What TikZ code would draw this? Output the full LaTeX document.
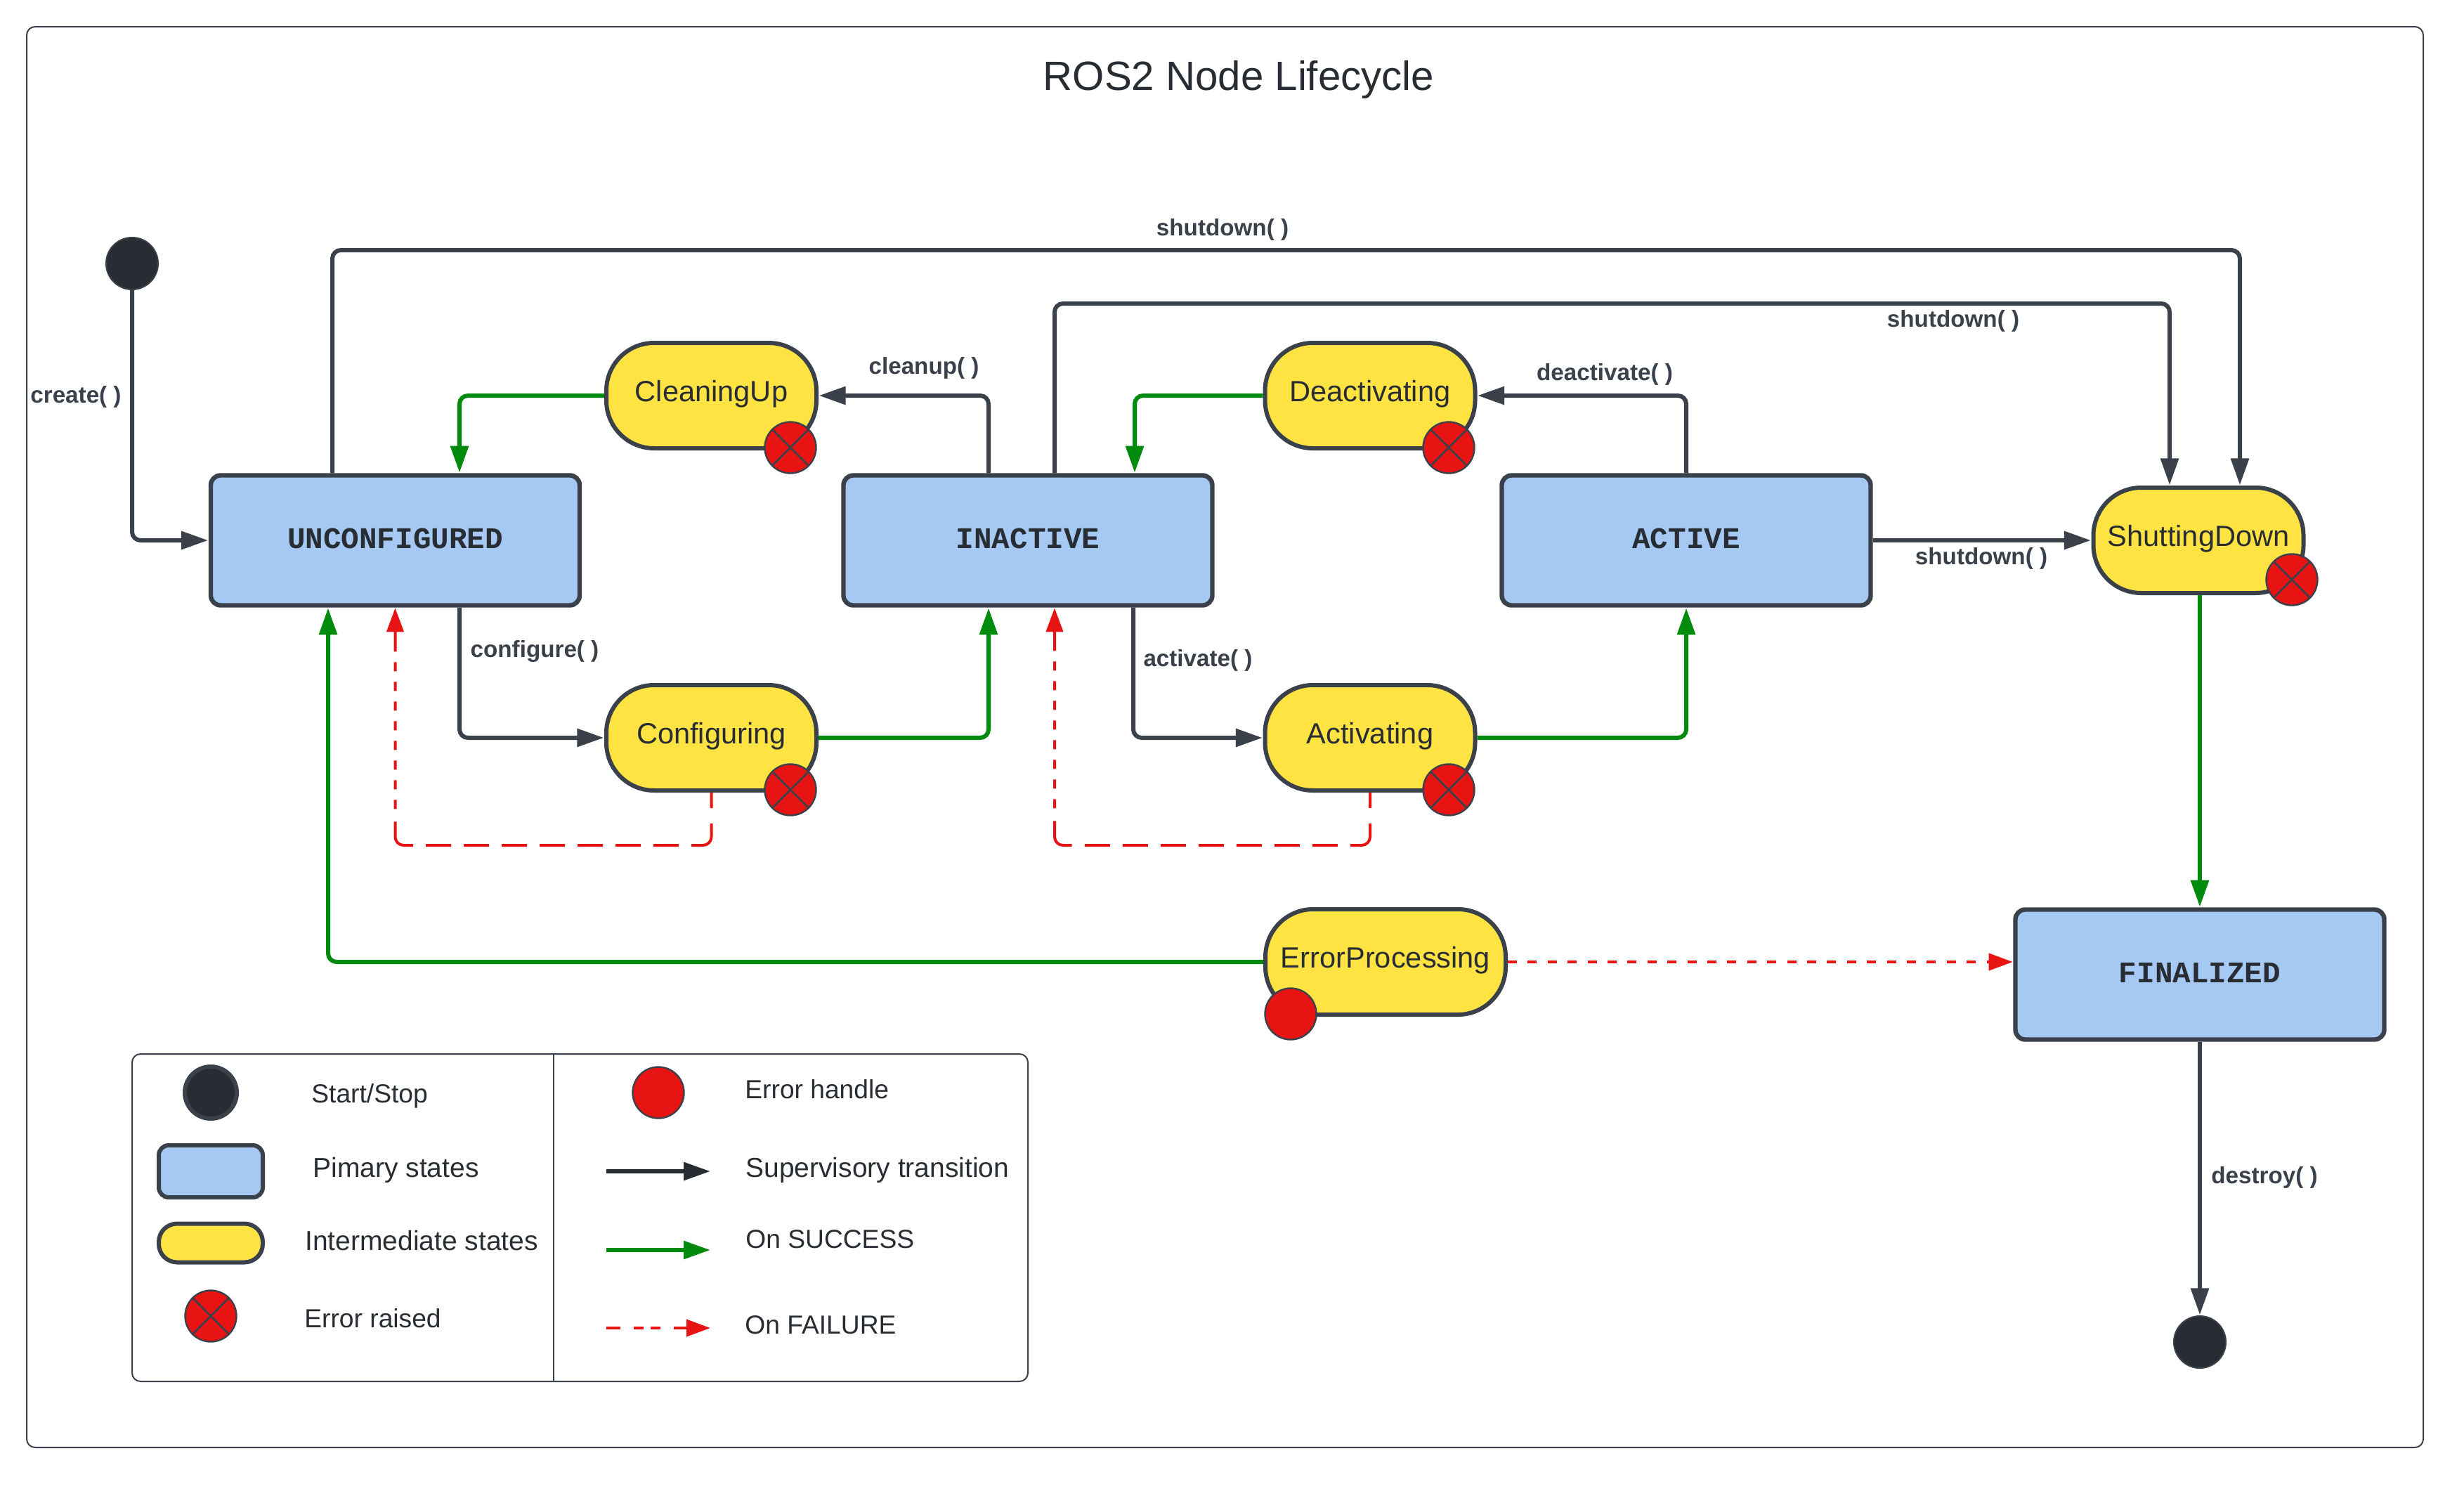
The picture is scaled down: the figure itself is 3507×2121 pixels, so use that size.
\documentclass[tikz,border=0pt]{standalone}
\usepackage{fontspec}
\setmainfont{Liberation Sans}
\newfontfamily\monof{Liberation Mono}
\usetikzlibrary{arrows.meta,calc}
\definecolor{edgec}{HTML}{3A414A}
\definecolor{txtc}{HTML}{282C33}
\definecolor{blue1}{HTML}{A6C9F4}
\definecolor{yell1}{HTML}{FFE342}
\definecolor{red1}{HTML}{E81313}
\definecolor{green1}{HTML}{008A0E}
\tikzset{
  x=0.5pt,y=-0.5pt,
  primary/.style={draw=edgec,fill=blue1,line width=3.2pt,rounded corners=7pt,inner sep=0pt,
    minimum width=262.5pt,minimum height=92.5pt,text=txtc,
    font=\monof\bfseries\fontsize{21.3}{24}\selectfont,text height=13pt,text depth=2pt},
  pill/.style={draw=edgec,fill=yell1,line width=3pt,rounded corners=34pt,inner sep=0pt,
    minimum width=149.5pt,minimum height=75pt,text=txtc,
    font=\fontsize{20.8}{24}\selectfont,text height=10pt,text depth=2pt},
  startstop/.style={circle,draw=edgec,fill=txtc,line width=1pt,inner sep=0pt,minimum size=37pt},
  errh/.style={circle,draw=edgec,fill=red1,line width=1.2pt,inner sep=0pt,minimum size=36.5pt},
  errx/.style={errh,path picture={
    \draw[edgec,line width=1.3pt] (path picture bounding box.north west)--(path picture bounding box.south east);
    \draw[edgec,line width=1.3pt] (path picture bounding box.north east)--(path picture bounding box.south west);}},
  sup/.style={draw=edgec,line width=3pt,rounded corners=6pt,shorten >=0.3pt,
    -{Triangle[length=19pt,width=12.5pt,fill=edgec]}},
  suc/.style={draw=green1,line width=3pt,rounded corners=6pt,shorten >=0.3pt,
    -{Triangle[length=19pt,width=12.5pt,fill=green1]}},
  failtip/.style={draw=red1,line width=2pt,rounded corners=6pt,shorten >=0.3pt,
    -{Triangle[length=17pt,width=12pt,fill=red1]}},
  faillong/.style={failtip,dash pattern=on 11pt off 11pt on 27pt
    off 9pt on 18pt off 9pt on 18pt off 9pt on 18pt off 9pt on 18pt off 9pt on 18pt off 9pt on 18pt off 9pt on 18pt off 9pt
    on 27pt off 9pt on 6.5pt off 7.5pt on 6.5pt off 7.5pt on 6.5pt off 7.5pt on 6.5pt off 7.5pt on 6.5pt off 7.5pt on 6.5pt off 7.5pt on 6.5pt off 7.5pt on 6.5pt off 7.5pt on 40pt},
  failshort/.style={failtip,dash pattern=on 6.5pt off 7.7pt},
  lab/.style={inner sep=0pt,text=edgec,font=\bfseries\fontsize{16.6}{19}\selectfont},
  legt/.style={inner sep=0pt,anchor=west,text=txtc,font=\fontsize{19.5}{23}\selectfont},
  legs/.style={legt,font=\fontsize{18.6}{23}\selectfont},
}
\begin{document}
\begin{tikzpicture}
\useasboundingbox (0,0) rectangle (3507,2121);
% outer frame and title
\draw[edgec,line width=1pt,rounded corners=6pt] (38,38) rectangle (3449,2060);
\node[inner sep=0pt,text=txtc,font=\fontsize{29.1}{34}\selectfont] (title) at (1763,113) {ROS2 Node Lifecycle};
% states
\node[startstop] (start) at (188,375) {};
\node[primary] (unc) at (562.5,769) {UNCONFIGURED};
\node[primary] (ina) at (1463,769) {INACTIVE};
\node[primary] (act) at (2400,769) {ACTIVE};
\node[primary] (fin) at (3131,1387) {FINALIZED};
\node[startstop] (end) at (3131,1910) {};
\node[pill] (clean) at (1012.5,563) {CleaningUp};
\node[pill] (conf) at (1012.5,1050) {Configuring};
\node[pill] (deac) at (1950,563) {Deactivating};
\node[pill] (acti) at (1950,1050) {Activating};
\node[pill] (shut) at (3129,769) {ShuttingDown};
\node[pill,minimum width=171pt] (err) at (1972,1369) {ErrorProcessing};
\node[errx] (bclean) at (1125,637) {};
\node[errx] (bconf) at (1125,1124) {};
\node[errx] (bdeac) at (2062,637) {};
\node[errx] (bacti) at (2062,1124) {};
\node[errx] (bshut) at (3262,825) {};
\node[errh] (berr) at (1837,1443) {};
% routing points
\coordinate (r1a) at (473,356);
\coordinate (r1b) at (3188,356);
\coordinate (r2a) at (1501,432);
\coordinate (r2b) at (3088,432);
\coordinate (rcu) at (1407,563);
\coordinate (rgu) at (654,563);
\coordinate (rcf) at (654,1050);
\coordinate (rgi) at (1407,1050);
\coordinate (rac) at (1613,1050);
\coordinate (rga) at (2400,1050);
\coordinate (rde) at (2400,563);
\coordinate (rgd) at (1615,563);
\coordinate (rf1a) at (1012.5,1203);
\coordinate (rf1b) at (562.5,1203);
\coordinate (rf2a) at (1950,1203);
\coordinate (rf2b) at (1501,1203);
\coordinate (rer) at (467,1369);
% connectors
\draw[sup] (start) |- (unc.west);
\draw[sup] (unc.north -| r1a) -- (r1a) -- (r1b) -- (shut.north -| r1b);
\draw[sup] (ina.north -| r2a) -- (r2a) -- (r2b) -- (shut.north -| r2b);
\draw[sup] (ina.north -| rcu) -- (rcu) -- (clean.east);
\draw[suc] (clean.west) -- (rgu) -- (unc.north -| rgu);
\draw[sup] (unc.south -| rcf) -- (rcf) -- (conf.west);
\draw[suc] (conf.east) -- (rgi) -- (ina.south -| rgi);
\draw[sup] (ina.south -| rac) -- (rac) -- (acti.west);
\draw[suc] (acti.east) -- (rga) -- (act.south);
\draw[sup] (act.north) -- (rde) -- (deac.east);
\draw[suc] (deac.west) -- (rgd) -- (ina.north -| rgd);
\draw[sup] (act.east) -- (shut.west);
\draw[suc] (shut.south -| fin.north) -- (fin.north);
\draw[sup] (fin.south) -- (end.north);
\draw[suc] (err.west) -- (rer) -- (unc.south -| rer);
\draw[faillong] (conf.south) -- (rf1a) -- (rf1b) -- (unc.south);
\draw[faillong] (acti.south) -- (rf2a) -- (rf2b) -- (ina.south -| rf2b);
\draw[failshort] (err.east) -- (fin.west |- err.east);
% labels
\node[lab] (l1) at (1740,327) {shutdown( )};
\node[lab] (l2) at (2780,457) {shutdown( )};
\node[lab] (l3) at (108,565) {create( )};
\node[lab] (l4) at (1315,524) {cleanup( )};
\node[lab] (l5) at (2284,533) {deactivate( )};
\node[lab] (l6) at (2820,795) {shutdown( )};
\node[lab] (l7) at (761,927) {configure( )};
\node[lab] (l8) at (1705,940) {activate( )};
\node[lab] (l9) at (3223,1676) {destroy( )};
% legend
\draw[edgec,line width=1pt,rounded corners=6pt] (188,1500) rectangle (1463,1966);
\coordinate (dtop) at (788,1500);
\coordinate (dbot) at (788,1966);
\draw[edgec,line width=1pt] (dtop) -- (dbot);
\node[startstop,line width=3pt] (k1) at (300,1555) {};
\node[primary,line width=3pt,minimum width=74pt,minimum height=37pt] (k2) at (300,1667) {};
\node[pill,minimum width=74pt,minimum height=27.5pt,rounded corners=13pt] (k3) at (300,1769) {};
\node[errx] (k4) at (300,1873) {};
\node[errh] (k5) at (937,1555) {};
\node[legs] (t1) at (443,1560) {Start/Stop};
\node[legt] (t2) at (445,1665) {Pimary states};
\node[legt] (t3) at (434,1766) {Intermediate states};
\node[legs] (t4) at (433,1876) {Error raised};
\node[legs] (t5) at (1060,1550) {Error handle};
\node[legt] (t6) at (1061,1665) {Supervisory transition};
\node[legs] (t7) at (1061,1764) {On SUCCESS};
\node[legs] (t8) at (1060,1886) {On FAILURE};
\coordinate (a1) at (863,1667); \coordinate (b1) at (1011,1667);
\coordinate (a2) at (863,1779); \coordinate (b2) at (1011,1779);
\coordinate (a3) at (863,1890); \coordinate (b3) at (1011,1890);
\draw[sup,draw=txtc,-{Triangle[length=19pt,width=12.5pt,fill=txtc]},shorten >=0pt] (a1) -- (b1);
\draw[suc,shorten >=0pt] (a2) -- (b2);
\draw[failtip,shorten >=0pt,dash pattern=on 10pt off 9.5pt on 7pt off 5pt on 7pt off 9.5pt on 40pt] (a3) -- (b3);
\end{tikzpicture}
\end{document}
